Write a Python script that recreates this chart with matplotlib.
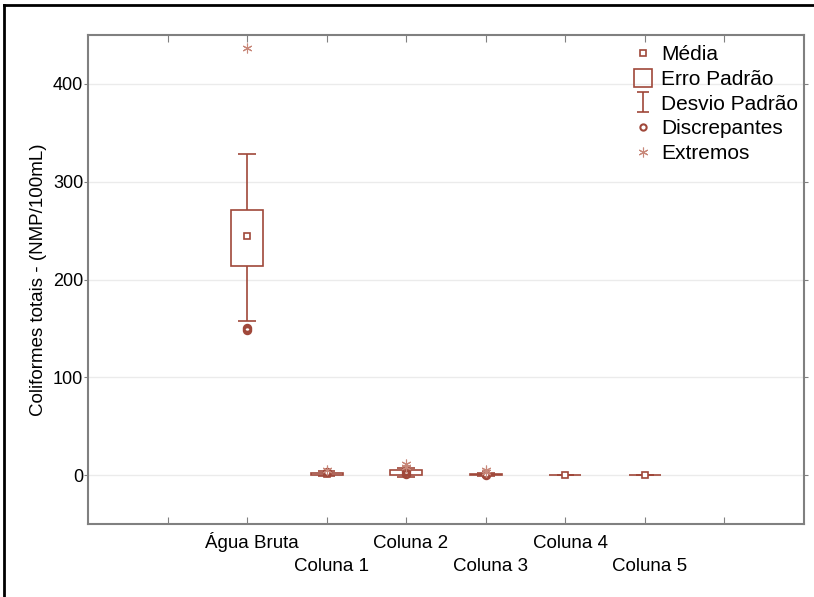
import numpy as np
import matplotlib.pyplot as plt
from matplotlib.patches import Rectangle
from matplotlib.lines import Line2D
from matplotlib.path import Path
from matplotlib.transforms import blended_transform_factory

plt.rcParams['font.family'] = ['Liberation Sans', 'DejaVu Sans']

# dados
grupos = ['Água Bruta', 'Coluna 1', 'Coluna 2', 'Coluna 3', 'Coluna 4', 'Coluna 5']
media = [244, 1.5, 3, 1, 0, 0]
erro_inf = [214, 0.5, 0.5, 0, 0, 0]
erro_sup = [271, 2.5, 5, 1.5, 0, 0]
desvio_inf = [158, -1, -2, -0.5, 0, 0]
desvio_sup = [328, 4, 7, 2.5, 0, 0]
discrepantes = [[148, 150], [3], [1, 4], [0], [], []]
extremos = [[437], [5], [8, 11], [3, 5], [], []]

cor = '#a0483a'
cor_ext = '#c8887a'
cinza = '#808080'

fig = plt.figure(figsize=(8.14, 5.97), dpi=100)
ax = fig.add_axes([88 / 814, 73 / 597, 716 / 814, 489 / 597])

pos = np.arange(1, len(grupos) + 1)
larg_caixa = 0.4
larg_cap = 0.22

for i, x in enumerate(pos):
    # desvio padrão (bigodes)
    ax.vlines(x, desvio_inf[i], erro_inf[i], color=cor, lw=1.2)
    ax.vlines(x, erro_sup[i], desvio_sup[i], color=cor, lw=1.2)
    ax.hlines([desvio_inf[i], desvio_sup[i]], x - larg_cap / 2, x + larg_cap / 2, color=cor, lw=1.2)
    # erro padrão (caixa)
    ax.add_patch(Rectangle((x - larg_caixa / 2, erro_inf[i]), larg_caixa,
                           erro_sup[i] - erro_inf[i], fill=False, ec=cor, lw=1.2, zorder=3))
    # média
    ax.plot(x, media[i], marker='s', ms=5, mfc='white', mec=cor, mew=1.2, ls='none', zorder=4)
    if discrepantes[i]:
        ax.plot([x] * len(discrepantes[i]), discrepantes[i], marker='o', ms=5, mfc='none',
                mec=cor, mew=1.8, ls='none', zorder=4)
    if extremos[i]:
        ax.plot([x] * len(extremos[i]), extremos[i], marker=(6, 2, 0), ms=7, color=cor_ext,
                mew=0.8, ls='none', zorder=4)

ax.set_xlim(-1, 8)
ax.set_ylim(-50, 450)
ax.set_xticks(np.arange(0, 8))
ax.set_xticklabels([])
ax.set_yticks([0, 100, 200, 300, 400])
ax.tick_params(axis='y', labelsize=13, direction='out', length=3, color=cinza, pad=0.5)
ax.tick_params(axis='x', direction='in', length=5, color=cinza, top=True)
ax.tick_params(axis='y', right=True)
ax.yaxis.grid(True, color='#ebebeb', lw=1)
ax.set_axisbelow(True)
for s in ax.spines.values():
    s.set_color(cinza)
    s.set_linewidth(1.5)

# rótulos do eixo x em duas linhas alternadas
trans = blended_transform_factory(ax.transData, ax.transAxes)
for k, g in enumerate(grupos):
    y_lab = -24 / 489 if k % 2 == 0 else -47 / 489
    ax.text(pos[k] + 0.06, y_lab, g, transform=trans, ha='center', va='baseline', fontsize=13.5)

ax.set_ylabel('Coliformes totais - (NMP/100mL)', fontsize=13.5, labelpad=4)

# legenda
ibeam = Path([(-0.6, 1), (0.6, 1), (0, 1), (0, -1), (-0.6, -1), (0.6, -1)],
             [Path.MOVETO, Path.LINETO, Path.MOVETO, Path.LINETO, Path.MOVETO, Path.LINETO])
handles = [
    Line2D([], [], marker='s', ms=5, mfc='white', mec=cor, mew=1.2, ls='none'),
    Line2D([], [], marker='s', ms=12.5, mfc='none', mec=cor, mew=1.2, ls='none'),
    Line2D([], [], marker=ibeam, ms=15, mec=cor, mew=1.2, ls='none'),
    Line2D([], [], marker='o', ms=4.5, mfc='none', mec=cor, mew=1.5, ls='none'),
    Line2D([], [], marker=(6, 2, 0), ms=7, color=cor_ext, mew=0.8, ls='none'),
]
labels = ['Média', 'Erro Padrão', 'Desvio Padrão', 'Discrepantes', 'Extremos']
ax.legend(handles, labels, loc='upper left', bbox_to_anchor=(633 / 814, 1 - 45 / 597),
          bbox_transform=fig.transFigure, frameon=False, fontsize=15, handlelength=1.0,
          handletextpad=0.35, labelspacing=0.28, borderpad=0, borderaxespad=0)

# moldura externa
fig.add_artist(Line2D([4 / 814, 4 / 814], [0, 1 - 5 / 597], color='black', lw=2))
fig.add_artist(Line2D([4 / 814, 1], [1 - 5 / 597, 1 - 5 / 597], color='black', lw=2))

fig.savefig('out.png', dpi=100)
